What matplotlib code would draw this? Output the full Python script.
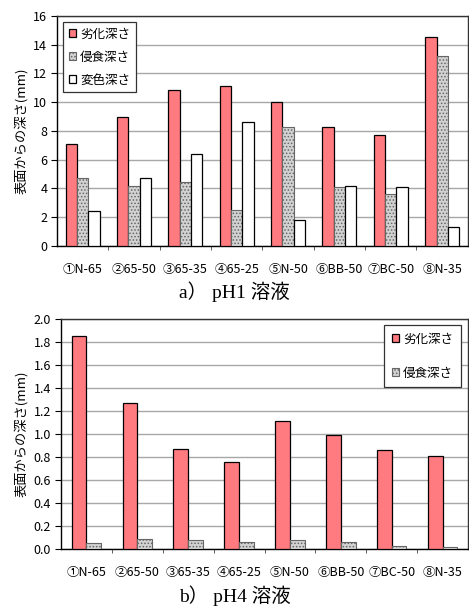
import numpy as np
import matplotlib
matplotlib.use("Agg")
import matplotlib.pyplot as plt

plt.rcParams['font.family'] = ['Noto Sans CJK JP', 'DejaVu Sans']
plt.rcParams['hatch.linewidth'] = 0.7

# --- data ---
categories = ["①N-65", "②65-50", "③65-35", "④65-25", "⑤N-50", "⑥BB-50", "⑦BC-50", "⑧N-35"]
series_names = ["劣化深さ", "侵食深さ", "変色深さ"]

ph1_deterioration = [7.1, 9.0, 10.85, 11.1, 10.05, 8.25, 7.7, 14.55]
ph1_erosion = [4.75, 4.2, 4.45, 2.5, 8.25, 4.1, 3.6, 13.25]
ph1_discolor = [2.4, 4.75, 6.4, 8.6, 1.8, 4.15, 4.1, 1.3]

ph4_deterioration = [1.85, 1.27, 0.87, 0.76, 1.11, 0.99, 0.86, 0.81]
ph4_erosion = [0.05, 0.09, 0.08, 0.065, 0.075, 0.06, 0.025, 0.015]

ylabel = "表面からの深さ(mm)"
caption_a = "a） pH1 溶液"
caption_b = "b） pH4 溶液"

RED = "#ff7b80"
GRAY = "#d2d2d2"


def draw_bars(ax, x, vals, kind, width):
    if kind == "red":
        return ax.bar(x, vals, width, color=RED, edgecolor="black", linewidth=0.9, zorder=3)
    if kind == "gray":
        return ax.bar(x, vals, width, color=GRAY, edgecolor="#666666", hatch=".....",
                      linewidth=0.8, zorder=3)
    return ax.bar(x, vals, width, color="white", edgecolor="black", linewidth=0.9, zorder=3)


def style_axis(ax, ymax, ystep, fmt):
    n = len(categories)
    ticks = np.arange(0, ymax + ystep / 2, ystep)
    ax.set_xlim(-0.5, n - 0.5)
    ax.set_ylim(0, ymax)
    ax.set_yticks(ticks)
    ax.set_yticklabels([fmt.format(v) for v in ticks], fontsize=9)
    ax.set_xticks(range(n))
    ax.set_xticklabels(categories, fontsize=9)
    ax.set_xticks(np.arange(0.5, n - 0.5, 1), minor=True)
    ax.tick_params(axis='x', which='major', length=0, pad=12)
    ax.tick_params(axis='x', which='minor', length=3, direction='out', color='#444444')
    ax.tick_params(axis='y', length=4, direction='out', pad=3)
    ax.yaxis.grid(True, color="#a8a8a8", linewidth=1.0, zorder=0)
    ax.set_axisbelow(True)
    for s in ax.spines.values():
        s.set_color("#333333")
        s.set_linewidth(1.0)
    ax.spines['left'].set_color("black")
    ax.spines['bottom'].set_color("black")
    ax.set_ylabel(ylabel, fontsize=9.5, labelpad=4)


fig = plt.figure(figsize=(4.69, 6.08), dpi=100)
x = np.arange(len(categories))

# --- a) pH1 ---
ax1 = fig.add_axes([0.1215, 0.5954, 0.876, 0.3783])
w = 0.22
h1 = draw_bars(ax1, x - w, ph1_deterioration, "red", w)
h2 = draw_bars(ax1, x, ph1_erosion, "gray", w)
h3 = draw_bars(ax1, x + w, ph1_discolor, "white", w)
style_axis(ax1, 16, 2, "{:.0f}")
leg1 = ax1.legend([h1, h2, h3], series_names, loc="upper left", fontsize=9,
                  handlelength=0.6, handleheight=0.6, handletextpad=0.3,
                  labelspacing=0.8, borderpad=0.45, bbox_to_anchor=(0.0, 1.0),
                  fancybox=False, framealpha=1, edgecolor="#333333")
leg1.get_frame().set_linewidth(0.9)
fig.text(0.5, 0.52, caption_a, ha="center", va="center", fontsize=14,
         family=['Liberation Serif', 'Noto Sans CJK JP'])

# --- b) pH4 ---
ax2 = fig.add_axes([0.130, 0.097, 0.868, 0.3783])
w2 = 0.29
g1 = draw_bars(ax2, x - w2 / 2, ph4_deterioration, "red", w2)
g2 = draw_bars(ax2, x + w2 / 2, ph4_erosion, "gray", w2)
style_axis(ax2, 2.0, 0.2, "{:.1f}")
leg2 = ax2.legend([g1, g2], series_names[:2], loc="upper right", fontsize=9,
                  handlelength=0.6, handleheight=0.6, handletextpad=0.3,
                  labelspacing=1.7, borderpad=0.6, borderaxespad=0.0,
                  bbox_to_anchor=(0.982, 0.974),
                  fancybox=False, framealpha=1, edgecolor="#333333")
leg2.get_frame().set_linewidth(0.9)
fig.text(0.5, 0.021, caption_b, ha="center", va="center", fontsize=14,
         family=['Liberation Serif', 'Noto Sans CJK JP'])

fig.savefig("out.png", dpi=100)
